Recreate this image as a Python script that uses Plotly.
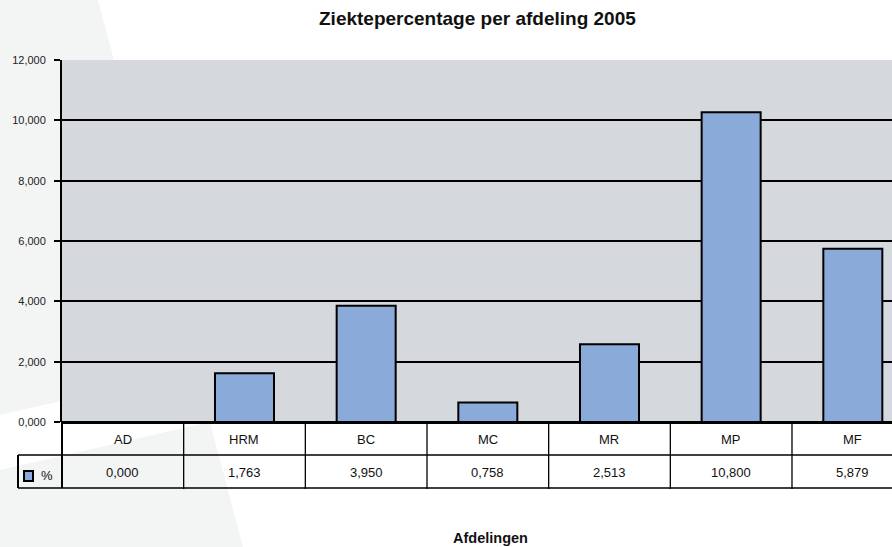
import plotly.graph_objects as go

# ---------------- data ----------------
categories = ["AD", "HRM", "BC", "MC", "MR", "MP", "MF"]
bar_values = [0, 1620, 3850, 650, 2580, 10270, 5740]
table_labels = ["0,000", "1,763", "3,950", "0,758", "2,513", "10,800", "5,879"]
series_name = "%"
y_tickvals = [0, 2000, 4000, 6000, 8000, 10000, 12000]
y_ticktext = ["0,000", "2,000", "4,000", "6,000", "8,000", "10,000", "12,000"]
title_text = "Ziektepercentage per afdeling 2005"
x_title = "Afdelingen"

# ---------------- layout geometry ----------------
W, H = 892, 547
ML, MRGT, MT, MB = 62, 0, 60, 125
X_RANGE = [-0.5, 6.322]
Y_RANGE = [0, 12000]
FONT = "Liberation Sans, Arial, sans-serif"
BAR_COLOR = "#8AAAD9"
PLOT_BG = "#D5D8DC"
PAGE_GRAY = "#F3F4F4"


def px(x):  # pixel x -> paper x
    return (x - ML) / (W - ML - MRGT)


def py(y):  # pixel y -> paper y
    return (H - MB - y) / (H - MT - MB)


def cx(v):  # category coordinate -> paper x
    return (v - X_RANGE[0]) / (X_RANGE[1] - X_RANGE[0])


fig = go.Figure()
fig.add_trace(go.Bar(
    x=list(range(len(categories))),
    y=bar_values,
    name=series_name,
    width=0.485,
    marker=dict(color=BAR_COLOR, line=dict(color="black", width=2)),
    showlegend=False,
    hoverinfo="skip",
))

shapes = []


def poly(points, color, layer="below"):
    path = "M " + " L ".join(f"{px(a):.5f},{py(b):.5f}" for a, b in points) + " Z"
    return dict(type="path", xref="paper", yref="paper", path=path,
                fillcolor=color, line=dict(width=0), layer=layer)


# slide background decoration
shapes.append(poly([(0, 0), (98, 0), (243, 547), (0, 547)], PAGE_GRAY))
shapes.append(poly([(0, 415), (196, 370), (210, 422), (0, 470)], "white"))
# plot area background
shapes.append(dict(type="rect", xref="paper", yref="paper", x0=0, x1=1, y0=0, y1=1,
                   fillcolor=PLOT_BG, line=dict(width=0), layer="below"))

ROW1_TOP, ROW1_BOT, ROW2_BOT = 422, 455, 488
TABLE_LEFT = 18


def line(x0, y0, x1, y1, w=1.3):
    return dict(type="line", xref="paper", yref="paper", x0=x0, y0=y0, x1=x1, y1=y1,
                line=dict(color="black", width=w), layer="above")


# horizontal table lines
shapes.append(line(px(TABLE_LEFT), py(ROW1_BOT), 1.05, py(ROW1_BOT), 1.5))
shapes.append(line(px(TABLE_LEFT), py(ROW2_BOT), 1.05, py(ROW2_BOT), 1.5))
# vertical table lines
shapes.append(line(0, py(ROW1_TOP), 0, py(ROW2_BOT), 2))
shapes.append(line(px(TABLE_LEFT), py(ROW1_BOT), px(TABLE_LEFT), py(ROW2_BOT), 2))
for i in range(1, len(categories)):
    b = cx(i - 0.5)
    shapes.append(line(b, py(ROW1_TOP), b, py(ROW2_BOT + 1), 1.3))
# legend key
shapes.append(dict(type="rect", xref="paper", yref="paper",
                   x0=px(24), x1=px(33), y0=py(481), y1=py(471),
                   fillcolor=BAR_COLOR, line=dict(color="black", width=2), layer="above"))

annotations = []
for i, (c, v) in enumerate(zip(categories, table_labels)):
    annotations.append(dict(x=cx(i), y=py(439.5), xref="paper", yref="paper", text=c,
                            showarrow=False, xanchor="center", yanchor="middle",
                            font=dict(family=FONT, size=13, color="#111")))
    annotations.append(dict(x=cx(i), y=py(472.5), xref="paper", yref="paper", text=v,
                            showarrow=False, xanchor="center", yanchor="middle",
                            font=dict(family=FONT, size=13, color="#111")))
annotations.append(dict(x=px(39), y=py(475), xref="paper", yref="paper", text=series_name,
                        showarrow=False, xanchor="left", yanchor="middle",
                        font=dict(family=FONT, size=13, color="#111")))
annotations.append(dict(x=px(477), y=py(19), xref="paper", yref="paper", text=title_text,
                        showarrow=False, xanchor="center", yanchor="middle",
                        font=dict(family=FONT, size=19, color="#111", weight="bold")))
annotations.append(dict(x=px(490), y=py(538), xref="paper", yref="paper", text=x_title,
                        showarrow=False, xanchor="center", yanchor="middle",
                        font=dict(family=FONT, size=14.5, color="#111", weight="bold")))

fig.update_layout(
    width=W, height=H,
    margin=dict(l=ML, r=MRGT, t=MT, b=MB, pad=0),
    paper_bgcolor="white",
    plot_bgcolor="rgba(0,0,0,0)",
    shapes=shapes,
    annotations=annotations,
    bargap=0.5,
    xaxis=dict(range=X_RANGE, showticklabels=False, showgrid=False, zeroline=False,
               showline=False, ticks="", fixedrange=True),
    yaxis=dict(range=Y_RANGE, tickvals=y_tickvals, ticktext=y_ticktext,
               showgrid=True, gridcolor="black", gridwidth=1.7,
               zeroline=True, zerolinecolor="black", zerolinewidth=2.8,
               showline=True, linecolor="black", linewidth=2,
               ticks="outside", ticklen=6, tickwidth=2, tickcolor="black",
               ticklabelstandoff=6,
               tickfont=dict(family=FONT, size=11, color="#222"), fixedrange=True),
    font=dict(family=FONT),
)

fig.write_html("out.html", post_script="document.body.style.margin='0';",
               config={"displayModeBar": False})
